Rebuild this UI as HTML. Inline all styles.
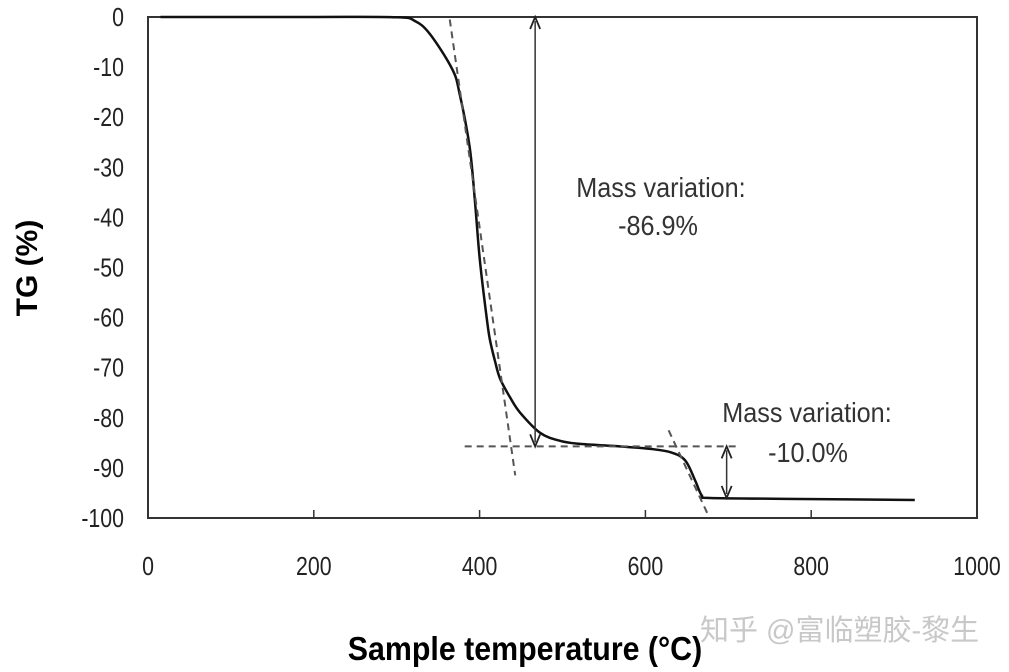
<!DOCTYPE html>
<html><head><meta charset="utf-8"><style>
html,body{margin:0;padding:0;background:#fff;}
svg{display:block;font-family:"Liberation Sans",Arial,sans-serif;}
</style></head><body>
<svg id="chart" width="1009" height="672" viewBox="0 0 1009 672">
<rect x="148" y="17" width="829" height="501" fill="#fff" stroke="#333" stroke-width="2"/>
<g id="yticks"></g>
<g id="xticks"></g>
<g id="marks"></g>
<text x="0" y="0" transform="translate(37,268) rotate(-90)" text-anchor="middle" font-size="30" font-weight="bold">TG (%)</text>
<text x="525" y="660" text-anchor="middle" font-size="33" font-weight="bold" transform="translate(525,0) scale(0.92,1) translate(-525,0)">Sample temperature (°C)</text>
<text x="700" y="640" font-size="29" fill="#c8c8c8" font-family="'Liberation Sans','Noto Sans CJK SC',sans-serif">知乎 @富临塑胶-黎生</text>
<text x="661" y="197" text-anchor="middle" font-size="28" fill="#333" transform="translate(661,0) scale(0.9,1) translate(-661,0)">Mass variation:</text>
<text x="658" y="235" text-anchor="middle" font-size="28" fill="#333" transform="translate(658,0) scale(0.9,1) translate(-658,0)">-86.9%</text>
<text x="807" y="422" text-anchor="middle" font-size="28" fill="#333" transform="translate(807,0) scale(0.9,1) translate(-807,0)">Mass variation:</text>
<text x="808" y="462" text-anchor="middle" font-size="28" fill="#333" transform="translate(808,0) scale(0.9,1) translate(-808,0)">-10.0%</text>
</svg>
<script>
const temps=[15,200,300,322,340,367,376,388,394,400,407,412,419,425,437,449,473,497,521,569,606,631,648,660,668,678,786,925];
const tg=[0,0,-0.05,-0.8,-3.4,-10.4,-15.4,-26,-36,-48,-58,-64,-69,-72.3,-76,-79,-83,-84.6,-85.2,-85.7,-86.2,-86.9,-88.5,-92.5,-95.5,-96,-96.2,-96.4];
const xTicks=[0,200,400,600,800,1000];
const yTicks=[0,-10,-20,-30,-40,-50,-60,-70,-80,-90,-100];
const tangent1=[[364,-0.5],[443,-91.5]];
const tangent2=[[628,-82.5],[676,-99.5]];
const baseline=[[382,-85.7],[714,-85.7]];
const arrow1=[467,0,-85.7];
const arrow2=[698,-85.7,-96];
const NS='http://www.w3.org/2000/svg';
const X=t=>148+t*0.829;
const Y=v=>17-v*5.01;
function mk(tag,attrs,parent){const e=document.createElementNS(NS,tag);for(const k in attrs)e.setAttribute(k,attrs[k]);parent.appendChild(e);return e;}
const yg=document.getElementById('yticks'),xg=document.getElementById('xticks'),mg=document.getElementById('marks');
yTicks.forEach(v=>{
 const t=mk('text',{x:124,y:Y(v)+9,'text-anchor':'end','font-size':26,fill:'#222',transform:`translate(124,0) scale(0.82,1) translate(-124,0)`},yg);
 
 
 t.textContent=v;
});
xTicks.forEach(v=>{
 const t=mk('text',{x:X(v),y:575,'text-anchor':'middle','font-size':26,fill:'#222',transform:`translate(${X(v)},0) scale(0.82,1) translate(${-X(v)},0)`},xg);
 
 
 t.textContent=v;
 if(v>0&&v<1000){const l=mk('line',{x1:X(v),x2:X(v),y1:518,y2:510,stroke:'#333','stroke-width':1.5},xg);
 
 }
});
const pts=temps.map((t,i)=>[X(t),Y(tg[i])]);
let d='M'+pts[0][0]+' '+pts[0][1];
for(let i=0;i<pts.length-1;i++){
 const p0=pts[Math.max(0,i-1)],p1=pts[i],p2=pts[i+1],p3=pts[Math.min(pts.length-1,i+2)];
 const c1=[p1[0]+(p2[0]-p0[0])/6,p1[1]+(p2[1]-p0[1])/6],c2=[p2[0]-(p3[0]-p1[0])/6,p2[1]-(p3[1]-p1[1])/6];
 d+=` C${c1[0].toFixed(1)} ${c1[1].toFixed(1)} ${c2[0].toFixed(1)} ${c2[1].toFixed(1)} ${p2[0].toFixed(1)} ${p2[1].toFixed(1)}`;
}
const p=mk('path',{d:d,fill:'none',stroke:'#111','stroke-width':2.5,'stroke-linejoin':'round'},mg);


[[tangent1,'tangent-line-1'],[tangent2,'tangent-line-2'],[baseline,'baseline-dashed']].forEach(([s,n])=>{
 const l=mk('line',{x1:X(s[0][0]),y1:Y(s[0][1]),x2:X(s[1][0]),y2:Y(s[1][1]),stroke:'#555','stroke-width':2,'stroke-dasharray':'7,5'},mg);
 
 
});
[[arrow1,'mass-arrow-1'],[arrow2,'mass-arrow-2']].forEach(([a,n])=>{
 const x=X(a[0]),y1=Y(a[1]),y2=Y(a[2]);
 const g=mk('g',{},mg);
 
 
 mk('line',{x1:x,x2:x,y1:y1+4,y2:y2-4,stroke:'#333','stroke-width':1.5},g);
 mk('path',{d:`M${x-5} ${y1+12} L${x} ${y1} L${x+5} ${y1+12}`,fill:'none',stroke:'#222','stroke-width':1.8},g);
 mk('path',{d:`M${x-5} ${y2-12} L${x} ${y2} L${x+5} ${y2-12}`,fill:'none',stroke:'#222','stroke-width':1.8},g);
});
</script>
</body></html>
